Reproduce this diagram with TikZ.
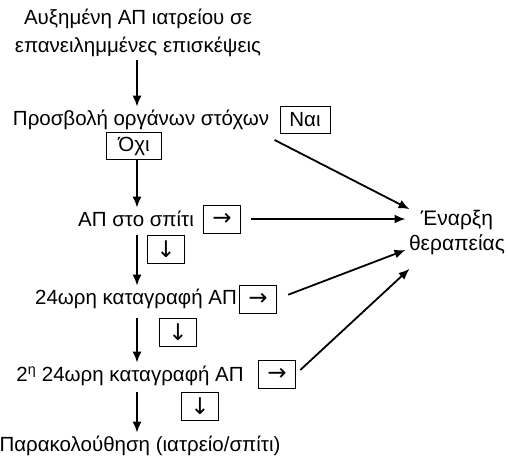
\documentclass[tikz,border=0pt]{standalone}
\usepackage{fontspec}
\setmainfont{Liberation Sans}
\newfontfamily\arrowfont{DejaVu Sans}
\usetikzlibrary{positioning,calc,arrows.meta}

\begin{document}
\begin{tikzpicture}[x=1pt,y=-1pt,
    every node/.append style={font=\fontsize{20.5}{28}\selectfont},
    flow/.style={->,>={Latex[length=11pt,width=9pt]},line width=1.8pt},
    box/.style={draw,line width=0.9pt,inner sep=3pt,minimum height=27pt},
    arrbox/.style={box,minimum width=37pt,minimum height=28pt,font=\arrowfont\fontsize{23}{26}\selectfont}]
    \useasboundingbox (0,0) rectangle (508,459);
    \coordinate (axis) at (137,0);

    % main column
    \node[align=center] (high) at (138,33) {Αυξημένη ΑΠ ιατρείου σε\\επανειλημμένες επισκέψεις};
    \node (organ) at (141,120) {Προσβολή οργάνων στόχων};
    \node[box,minimum width=50pt] (nai) at (305,120) {Ναι};
    \node[box,minimum width=55pt] (ochi) at (134,146) {Όχι};
    \node (home) at (136,219) {ΑΠ στο σπίτι};
    \node[arrbox] (homeR) at (222,219) {→};
    \node[arrbox] (homeD) at (166,249) {↓};
    \node (abpm) at (136,299) {24ωρη καταγραφή ΑΠ};
    \node[arrbox] (abpmR) at (258,299) {→};
    \node[arrbox] (abpmD) at (178,332) {↓};
    \node (abpmb) at (130,376) {2\textsuperscript{η} 24ωρη καταγραφή ΑΠ};
    \node[arrbox] (abpmbR) at (277,374) {→};
    \node[arrbox] (abpmbD) at (200,406) {↓};
    \node (follow) at (140,446) {Παρακολούθηση (ιατρείο/σπίτι)};

    % treatment
    \node[align=center,font=\fontsize{21}{25}\selectfont] (start) at (457,233) {Έναρξη\\θεραπείας};

    \draw[flow] (high.south -| axis) -- (organ.north -| axis);
    \draw[flow] (ochi.south -| axis) -- (home.north -| axis);
    \draw[flow] (homeD.north -| axis) -- (abpm.north -| axis);
    \draw[flow] (abpmD.north -| axis) -- (abpmb.north -| axis);
    \draw[flow] (abpmbD.north -| axis) -- (follow.north -| axis);

    \draw[flow] ($(nai.south west)+(-5,6)$) -- ($(start.north west)+(4,2)$);
    \draw[flow,shorten <=10pt] (homeR.east) -- (start.west |- homeR.east);
    \draw[flow,shorten <=12pt] (abpmR.east) -- ($(start.west)+(0,17)$);
    \draw[flow,shorten <=6pt] (abpmbR.east) -- ($(start.south west)+(4,10)$);
\end{tikzpicture}
\end{document}
